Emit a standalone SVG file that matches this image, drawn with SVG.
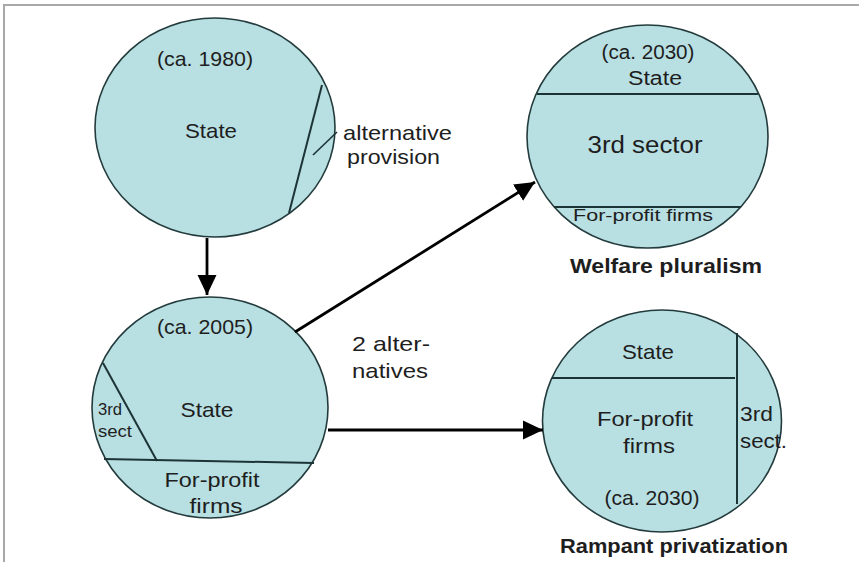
<svg xmlns="http://www.w3.org/2000/svg" width="859" height="562" viewBox="0 0 859 562">
  <defs>
    <marker id="ah" markerUnits="userSpaceOnUse" markerWidth="22" markerHeight="22" viewBox="0 0 22 22" refX="20" refY="11" orient="auto">
      <path d="M0,1.5 L20,11 L0,20.5 Z" fill="#000"/>
    </marker>
    <clipPath id="pic"><rect x="0" y="0" width="859" height="557"/></clipPath>
  </defs>
  <style>
    .disc { fill: #b8dfe2; stroke: #233b3c; stroke-width: 1.6; }
    .div { stroke: #1d3436; stroke-width: 2; fill: none; }
    .t { font-family: "Liberation Sans", Arial, sans-serif; font-size: 21px; fill: #1e1e1e; }
    .b { font-weight: bold; }
    .c { text-anchor: middle; }
    .conn { stroke: #000; stroke-width: 2.8; fill: none; marker-end: url(#ah); }
  </style>
  <rect width="859" height="562" fill="#fff"/>
  <path d="M4,562 V5 H859" fill="none" stroke="#a8a8a8" stroke-width="2"/>

  <g clip-path="url(#pic)">
  <g id="c1980">
    <ellipse class="disc" cx="215" cy="127.5" rx="120" ry="109.5"/>
    <line class="div" x1="322" y1="85" x2="289" y2="213"/>
    <line x1="337" y1="132" x2="313" y2="155" stroke="#1d3436" stroke-width="1.6"/>
    <text class="t c" x="205" y="66" textLength="96" lengthAdjust="spacingAndGlyphs">(ca. 1980)</text>
    <text class="t c" x="211" y="138" textLength="52" lengthAdjust="spacingAndGlyphs">State</text>
    <text class="t" x="343" y="140" textLength="109" lengthAdjust="spacingAndGlyphs">alternative</text>
    <text class="t" x="347" y="164" textLength="93" lengthAdjust="spacingAndGlyphs">provision</text>
  </g>

  <g id="c2030-welfare">
    <ellipse class="disc" cx="647.5" cy="136.5" rx="120.5" ry="111.5"/>
    <line class="div" x1="537" y1="94" x2="758" y2="94"/>
    <line class="div" x1="554" y1="207" x2="741" y2="207"/>
    <text class="t c" x="648" y="59" style="font-size:20px" textLength="93" lengthAdjust="spacingAndGlyphs">(ca. 2030)</text>
    <text class="t c" x="655" y="85" style="font-size:20px" textLength="54" lengthAdjust="spacingAndGlyphs">State</text>
    <text class="t c" x="645" y="153" style="font-size:23px" textLength="115" lengthAdjust="spacingAndGlyphs">3rd sector</text>
    <text class="t c" x="643" y="221" style="font-size:17px" textLength="140" lengthAdjust="spacingAndGlyphs">For-profit firms</text>
    <text class="t b c" x="666" y="273" textLength="192" lengthAdjust="spacingAndGlyphs">Welfare pluralism</text>
  </g>

  <g id="c2005">
    <ellipse class="disc" cx="210" cy="407.5" rx="118" ry="110.5"/>
    <line class="div" x1="104" y1="459" x2="314" y2="463"/>
    <line class="div" x1="103" y1="363" x2="157" y2="461"/>
    <text class="t c" x="205" y="334" textLength="96" lengthAdjust="spacingAndGlyphs">(ca. 2005)</text>
    <text class="t c" x="207" y="417" textLength="53" lengthAdjust="spacingAndGlyphs">State</text>
    <text class="t" x="98" y="415" style="font-size:16px" textLength="24" lengthAdjust="spacingAndGlyphs">3rd</text>
    <text class="t" x="98" y="437" style="font-size:16px" textLength="34" lengthAdjust="spacingAndGlyphs">sect</text>
    <text class="t c" x="212" y="487" textLength="95" lengthAdjust="spacingAndGlyphs">For-profit</text>
    <text class="t c" x="216" y="513" textLength="53" lengthAdjust="spacingAndGlyphs">firms</text>
  </g>

  <g id="c2030-rampant">
    <ellipse class="disc" cx="662" cy="421" rx="119.5" ry="111"/>
    <line class="div" x1="552" y1="378" x2="735" y2="378"/>
    <line class="div" x1="737" y1="333" x2="737" y2="504"/>
    <text class="t c" x="648" y="359" textLength="52" lengthAdjust="spacingAndGlyphs">State</text>
    <text class="t c" x="645" y="426" textLength="96" lengthAdjust="spacingAndGlyphs">For-profit</text>
    <text class="t c" x="649" y="453" textLength="52" lengthAdjust="spacingAndGlyphs">firms</text>
    <text class="t c" x="652" y="505" textLength="95" lengthAdjust="spacingAndGlyphs">(ca. 2030)</text>
    <text class="t" x="740" y="421" textLength="33" lengthAdjust="spacingAndGlyphs">3rd</text>
    <text class="t" x="740" y="448" textLength="47" lengthAdjust="spacingAndGlyphs">sect.</text>
    <text class="t b c" x="674" y="553" textLength="228" lengthAdjust="spacingAndGlyphs">Rampant privatization</text>
  </g>

  <g id="connectors">
    <line class="conn" x1="207" y1="238" x2="207" y2="295"/>
    <line class="conn" x1="295" y1="332" x2="535" y2="182"/>
    <line class="conn" x1="328" y1="430" x2="543" y2="430"/>
    <text class="t" x="352" y="351" textLength="78" lengthAdjust="spacingAndGlyphs">2 alter-</text>
    <text class="t" x="352" y="378" textLength="76" lengthAdjust="spacingAndGlyphs">natives</text>
  </g>
  </g>
</svg>
